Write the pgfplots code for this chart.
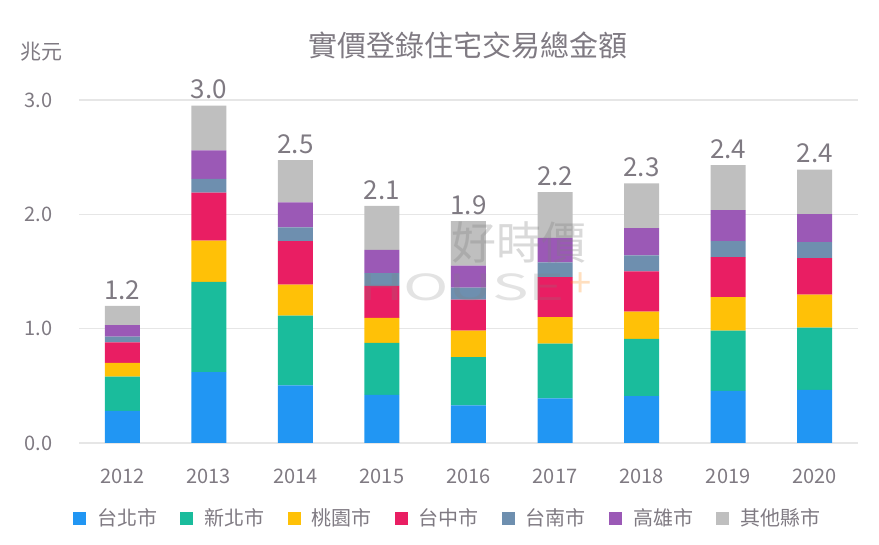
\documentclass[border=0pt]{standalone}
\usepackage{fontspec}
\setmainfont{Noto Sans CJK TC}
\usepackage{pgfplots}
\pgfplotsset{compat=1.18}
\usepackage{pgfplotstable}
\definecolor{txt}{HTML}{7F7A82}
\definecolor{cTP}{HTML}{2196F3}
\definecolor{cNTP}{HTML}{1ABC9C}
\definecolor{cTY}{HTML}{FFC107}
\definecolor{cTC}{HTML}{E91E63}
\definecolor{cTN}{HTML}{6E8FAF}
\definecolor{cKS}{HTML}{9B59B6}
\definecolor{cOT}{HTML}{BFBFBF}
\definecolor{gridc}{HTML}{E6E6E6}

\pgfplotstableread{
x tp ntp ty tc tn ks ot
0 0.28 0.30 0.12 0.18 0.05 0.10 0.17
1 0.62 0.79 0.36 0.42 0.12 0.25 0.39
2 0.505 0.61 0.27 0.38 0.12 0.22 0.37
3 0.42 0.455 0.22 0.28 0.11 0.205 0.385
4 0.33 0.42 0.233 0.271 0.105 0.192 0.389
5 0.39 0.48 0.23 0.35 0.13 0.215 0.40
6 0.41 0.50 0.24 0.35 0.14 0.24 0.39
7 0.455 0.528 0.292 0.35 0.14 0.271 0.394
8 0.464 0.545 0.288 0.319 0.14 0.245 0.39
}\data

\pgfplotstableread{
x tot lab
0 1.200 1.2
1 2.950 3.0
2 2.475 2.5
3 2.075 2.1
4 1.940 1.9
5 2.195 2.2
6 2.270 2.3
7 2.430 2.4
8 2.391 2.4
}\totals

\begin{document}
\begin{tikzpicture}[x=1pt,y=1pt]
\path (0,0) rectangle (439.5,272.5);
\node[font=\fontsize{14.5}{16}\selectfont, text=txt] at (234,250) {實價登錄住宅交易總金額};
\node[font=\fontsize{10.5}{12}\selectfont, text=txt] at (20.5,246.5) {兆元};
\begin{axis}[
  at={(39.5pt,51pt)}, anchor=south west,
  scale only axis, width=389.5pt, height=171.5pt,
  ybar stacked, bar width=17.5pt,
  xmin=-0.5, xmax=8.5, ymin=0, ymax=3,
  xtick={0,...,8},
  xticklabels={2012,2013,2014,2015,2016,2017,2018,2019,2020},
  ytick={0,1,2,3},
  /pgf/number format/.cd, fixed, fixed zerofill, precision=1, assume math mode=true,
  /pgfplots/.cd,
  axis line style={draw=none},
  major tick length=0pt,
  ymajorgrids, grid style={draw=gridc, line width=0.8pt},
  yticklabel style={font=\fontsize{10}{12}\selectfont, text=txt, inner sep=0pt, anchor=east, xshift=-13pt},
  xticklabel style={font=\fontsize{10}{12}\selectfont, text=txt, inner sep=0pt, anchor=north, yshift=-12.8pt},
  clip=false,
  legend columns=7,
  legend style={at={(-0.008,-0.22)}, anchor=west, draw=none, fill=none,
    font=\fontsize{10}{12}\selectfont, text=txt, inner sep=0pt,
    /tikz/every odd column/.append style={column sep=3.5pt},
    /tikz/every even column/.append style={column sep=9.6pt}},
  legend cell align=left,
  legend image code/.code={\fill[#1] (0pt,-3.25pt) rectangle (6.5pt,3.25pt);},
]
\addplot[fill=cTP, draw=none] table[x=x,y=tp]{\data};
\addplot[fill=cNTP, draw=none] table[x=x,y=ntp]{\data};
\addplot[fill=cTY, draw=none] table[x=x,y=ty]{\data};
\addplot[fill=cTC, draw=none] table[x=x,y=tc]{\data};
\addplot[fill=cTN, draw=none] table[x=x,y=tn]{\data};
\addplot[fill=cKS, draw=none] table[x=x,y=ks]{\data};
\addplot[fill=cOT, draw=none] table[x=x,y=ot]{\data};
\legend{台北市,新北市,桃園市,台中市,台南市,高雄市,其他縣市}
\end{axis}
\begin{axis}[
  at={(39.5pt,51pt)}, anchor=south west,
  scale only axis, width=389.5pt, height=171.5pt,
  xmin=-0.5, xmax=8.5, ymin=0, ymax=3,
  hide axis, clip=false,
]
\addplot[draw=none, mark=none,
  point meta=explicit symbolic,
  nodes near coords,
  every node near coord/.append style={font=\fontsize{13}{14}\selectfont, text=txt, inner sep=0pt, anchor=south, yshift=3pt}]
  table[x=x,y=tot,meta=lab]{\totals};
\end{axis}
\node[font=\fontsize{22.5}{24}\selectfont, text=gray, opacity=0.3] at (259.25,151.5) {好時價};
\node[font=\fontsize{18}{18}\selectfont, text=gray, opacity=0.22, xscale=1.7] at (231,129) {HOUSE};
\node[font=\fontsize{20}{20}\selectfont, text=orange, opacity=0.25] at (290.5,130) {+};
\end{tikzpicture}
\end{document}
